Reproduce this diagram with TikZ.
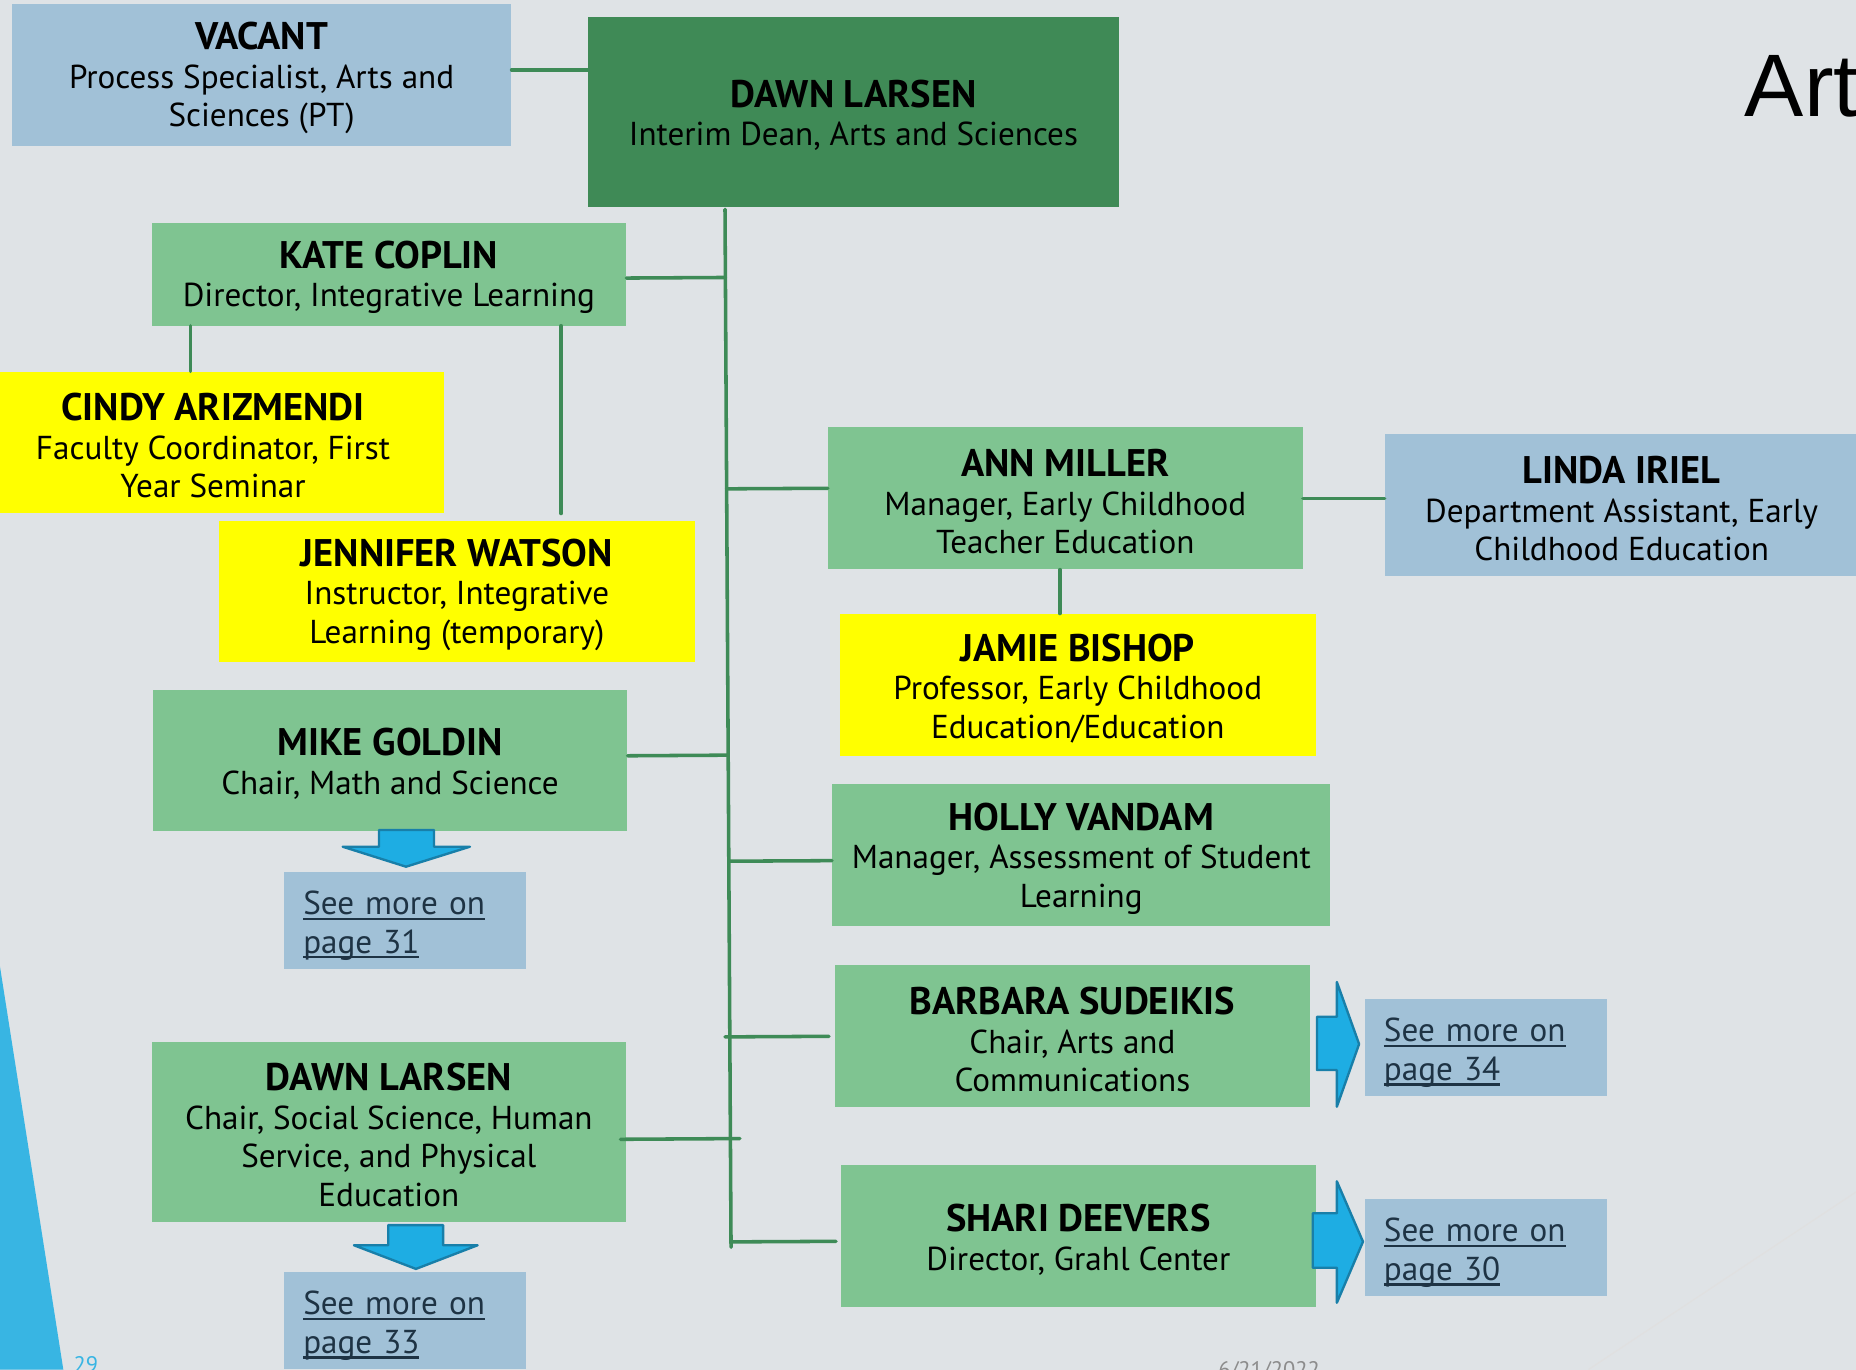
\documentclass[tikz,border=0pt]{standalone}
\usepackage{fontspec}
\setmainfont{PT Sans}
\newfontfamily\titlefont{Liberation Sans}
\newcommand\myul[1]{\hbox{\setbox0=\hbox{#1}\rlap{\lower4.5pt\hbox{\vrule width\wd0 height 2pt depth 0pt}}\box0}}
\newcommand\nm[1]{{\fontsize{32.5}{32.5}\selectfont\bfseries\rule{0pt}{29pt}#1}}
\usetikzlibrary{calc}
\definecolor{bgc}{HTML}{DFE3E6}
\definecolor{deang}{HTML}{3F8A56}
\definecolor{boxg}{HTML}{7FC491}
\definecolor{boxy}{HTML}{FFFF00}
\definecolor{boxb}{HTML}{A1C1D7}
\definecolor{lineg}{HTML}{3E8B57}
\definecolor{arrf}{HTML}{1EADE3}
\definecolor{arrd}{HTML}{187FA9}
\definecolor{tri}{HTML}{38B5E3}
\definecolor{linkc}{HTML}{1E3344}
\begin{document}
\begin{tikzpicture}[x=1pt,y=-1pt,
  orgbox/.style={rectangle, inner sep=0pt, align=center, text=black,
    font=\fontsize{28}{32.5}\selectfont},
  gbox/.style={orgbox, fill=boxg},
  ybox/.style={orgbox, fill=boxy},
  bbox/.style={orgbox, fill=boxb},
  dbox/.style={orgbox, fill=deang},
  morebox/.style={rectangle, fill=boxb, inner ysep=0pt, inner xsep=16pt, align=left,
    text=linkc, font=\fontsize{28}{32.5}\selectfont, text width=172pt,
    minimum height=82pt, text height=22pt, text depth=32pt, anchor=north west},
  conn/.style={draw=lineg, line width=3pt, line cap=round},
  blockarrow/.style={fill=arrf, draw=arrd, line width=2pt, line join=round}]
\useasboundingbox (0,0) rectangle (1568,1157);
\clip (0,0) rectangle (1568,1157);
\fill[bgc] (0,0) rectangle (1568,1157);
% decorations
\fill[tri] (0,816.7) -- (53.5,1157) -- (0,1157) -- cycle;
\draw[color=black!12, line width=1pt] (1342,1157) -- (1568,1007);
\node[anchor=base west, inner sep=0pt, font=\titlefont\fontsize{75}{80}\selectfont] (title) at (1474,98.6) {Art};
\node[anchor=north west, inner sep=0pt, text=tri, font=\fontsize{19}{22}\selectfont] (pnum) at (62,1146) {29};
\node[anchor=north west, inner sep=0pt, text=black!45, font=\fontsize{19}{22}\selectfont] (date) at (1029,1150) {6/21/2022};

% boxes
\node[bbox, minimum width=422pt, minimum height=120pt] (vac) at (221,63) {\nm{VACANT}\\Process Specialist, Arts and\\Sciences (PT)};
\node[dbox, minimum width=448pt, minimum height=161pt] (dean) at (721,94.5) {\nm{DAWN LARSEN}\\Interim Dean, Arts and Sciences};
\node[gbox, minimum width=401pt, minimum height=87pt] (kate) at (328.5,231.5) {\nm{KATE COPLIN}\\Director, Integrative Learning};
\node[ybox, minimum width=390pt, minimum height=119pt] (cindy) at (180,373.5) {\nm{CINDY ARIZMENDI}\\Faculty Coordinator, First\\Year Seminar};
\node[ybox, minimum width=402pt, minimum height=119pt] (jen) at (386,499.5) {\nm{JENNIFER WATSON}\\Instructor, Integrative\\Learning (temporary)};
\node[gbox, minimum width=401pt, minimum height=119pt] (mike) at (329.5,642.5) {\nm{MIKE GOLDIN}\\Chair, Math and Science};
\node[gbox, minimum width=401pt, minimum height=152pt] (dlc) at (328.5,956) {\nm{DAWN LARSEN}\\Chair, Social Science, Human\\Service, and Physical\\Education};
\node[gbox, minimum width=401pt, minimum height=120pt] (ann) at (900,421) {\nm{ANN MILLER}\\Manager, Early Childhood\\Teacher Education};
\node[bbox, minimum width=400pt, minimum height=120pt] (linda) at (1370,427) {\nm{LINDA IRIEL}\\Department Assistant, Early\\Childhood Education};
\node[ybox, minimum width=402pt, minimum height=120pt] (jamie) at (910.5,578.5) {\nm{JAMIE BISHOP}\\Professor, Early Childhood\\Education/Education};
\node[gbox, minimum width=421pt, minimum height=120pt] (holly) at (913.5,722.5) {\nm{HOLLY VANDAM}\\Manager, Assessment of Student\\Learning};
\node[gbox, minimum width=401pt, minimum height=120pt] (barb) at (906,875.5) {\nm{BARBARA SUDEIKIS}\\Chair, Arts and\\Communications};
\node[gbox, minimum width=401pt, minimum height=120pt] (shari) at (911,1044.5) {\nm{SHARI DEEVERS}\\Director, Grahl Center};

% see more boxes
\node[morebox] (s31) at (240,736.5) {\myul{See more on}\\\myul{page 31}};
\node[morebox] (s33) at (240,1074.5) {\myul{See more on}\\\myul{page 33}};
\node[morebox] (s34) at (1153,844) {\myul{See more on}\\\myul{page 34}};
\node[morebox] (s30) at (1153,1013) {\myul{See more on}\\\myul{page 30}};

% block arrows
\draw[blockarrow] (320.2,701.2) -- (366.6,701.2) -- (366.6,715.3) -- (397,715.3) -- (343,732.2) -- (289.5,715.3) -- (320.2,715.3) -- cycle;
\draw[blockarrow] (328,1035) -- (374.4,1035) -- (374.4,1052) -- (403.5,1052) -- (351.4,1072) -- (299,1052) -- (328,1052) -- cycle;
\draw[blockarrow] (1112.6,859) -- (1129.4,859) -- (1129.4,829.6) -- (1148.2,882) -- (1129.4,935) -- (1129.4,904) -- (1112.6,904) -- cycle;
\draw[blockarrow] (1109,1025) -- (1129.4,1025) -- (1129.4,998) -- (1151.5,1049) -- (1129.4,1100.6) -- (1129.4,1071) -- (1109,1071) -- cycle;

% connectors
\coordinate (ttop) at (612.5,176.8);
\coordinate (tbot) at (617.6,1053.7);
\draw[conn] (ttop) -- (tbot);
\draw[conn] ([yshift=4pt]vac.east) -- ([yshift=4pt]vac.east -| dean.west);
\draw[conn] ([yshift=-3.4pt]kate.east) -- ($(ttop)!([yshift=-3.4pt]kate.east)!(tbot)$);
\draw[conn] ([yshift=8.5pt]ann.west) -- ($(ttop)!([yshift=8.5pt]ann.west)!(tbot)$);
\draw[conn] ([yshift=4pt]mike.east) -- ($(ttop)!([yshift=4pt]mike.east)!(tbot)$);
\draw[conn] ([yshift=-4.6pt]holly.west) -- ($(ttop)!([yshift=-4.6pt]holly.west)!(tbot)$);
\draw[conn] ([xshift=-5pt]barb.west) -- ($([xshift=-4pt]ttop)!(barb.west)!([xshift=-4pt]tbot)$);
\draw[conn] ([xshift=-5pt,yshift=-6.5pt]dlc.east) -- ($([xshift=8pt]ttop)!([yshift=-6.5pt]dlc.east)!([xshift=8pt]tbot)$);
\draw[conn] ([xshift=-4pt,yshift=-4.2pt]shari.west) -- ($([xshift=2pt]ttop)!([yshift=-4.2pt]shari.west)!([xshift=2pt]tbot)$);
\draw[conn] (ann.east) -- (ann.east -| linda.west);
\draw[conn] ([xshift=-167.5pt]kate.south) -- ([xshift=-167.5pt]kate.south |- cindy.north);
\draw[conn] ([xshift=145.5pt]kate.south) -- ([xshift=145.5pt,yshift=6pt]kate.south |- jen.north);
\draw[conn] ([xshift=-4.5pt]ann.south) -- ([xshift=-4.5pt]ann.south |- jamie.north);
\end{tikzpicture}
\end{document}
